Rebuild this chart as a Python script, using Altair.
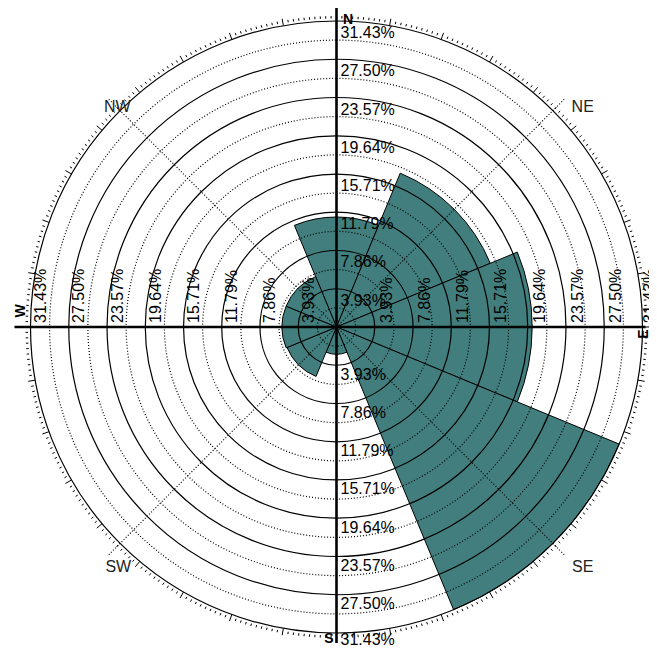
import math
import altair as alt
import pandas as pd

# ---------------- data ----------------
directions = ["N", "NE", "E", "SE", "S", "SW", "W", "NW"]
direction_deg = [0, 45, 90, 135, 180, 225, 270, 315]
frequency = [11.3, 17.1, 20.1, 31.43, 2.8, 5.5, 5.6, 5.6]
ring_values = [3.93, 7.86, 11.79, 15.71, 19.64, 23.57, 27.50, 31.43]
ring_labels = ["3.93%", "7.86%", "11.79%", "15.71%", "19.64%", "23.57%", "27.50%", "31.43%"]
cardinal_labels = ["N", "E", "S", "W"]
cardinal_deg = [0, 90, 180, 270]
diag_labels = ["NE", "SE", "SW", "NW"]
diag_deg = [45, 135, 225, 315]

# ---------------- layout ----------------
W, H = 641, 639
CX, CY = 328.5, 319.0
R_PX = 306.0
RMAX = ring_values[-1]
PX = RMAX / R_PX  # data units per pixel
FONT = "Liberation Sans"
FILL = "#417e7d"

theta_scale = alt.Scale(domain=[0, 360], range=[0, 2 * math.pi])
radius_scale = alt.Scale(type="linear", domain=[0, RMAX], range=[0, R_PX], zero=True, nice=False)
x_scale = alt.Scale(domain=[-RMAX, RMAX], range=[CX - R_PX, CX + R_PX], nice=False, zero=False)
y_scale = alt.Scale(domain=[-RMAX, RMAX], range=[CY + R_PX, CY - R_PX], nice=False, zero=False)


def polar(deg, r):
    a = math.radians(deg)
    return r * math.sin(a), r * math.cos(a)


def xy_enc(rule=False):
    enc = dict(
        x=alt.X("x:Q", scale=x_scale, axis=None),
        y=alt.Y("y:Q", scale=y_scale, axis=None),
    )
    if rule:
        enc["x2"] = alt.X2("x2:Q")
        enc["y2"] = alt.Y2("y2:Q")
    return enc


# sectors
sec_df = pd.DataFrame({
    "direction": directions,
    "freq": frequency,
    "t0": [d - 22.5 for d in direction_deg],
    "t1": [d + 22.5 for d in direction_deg],
})
sectors = alt.Chart(sec_df).mark_arc(fill=FILL, stroke="black", strokeWidth=1).encode(
    theta=alt.Theta("t0:Q", scale=theta_scale, stack=None),
    theta2="t1:Q",
    radius=alt.Radius("freq:Q", scale=radius_scale, stack=None),
    x=alt.value(CX),
    y=alt.value(CY),
)

# rings
solid_df = pd.DataFrame({"r": ring_values})
mids = [(a + b) / 2 for a, b in zip([0] + ring_values[:-1], ring_values)]
dotted_df = pd.DataFrame({"r": mids})
solid_rings = alt.Chart(solid_df).mark_arc(
    theta=0, theta2=2 * math.pi, fillOpacity=0, stroke="black", strokeWidth=1.2
).encode(radius=alt.Radius("r:Q", scale=radius_scale, stack=None), x=alt.value(CX), y=alt.value(CY))
dotted_rings = alt.Chart(dotted_df).mark_arc(
    theta=0, theta2=2 * math.pi, fillOpacity=0, stroke="black", strokeWidth=1.2, strokeDash=[1, 2]
).encode(radius=alt.Radius("r:Q", scale=radius_scale, stack=None), x=alt.value(CX), y=alt.value(CY))

# outer rim ticks (one per degree, longer every 10 degrees)
tick_rows = []
for d in range(360):
    if d % 10 == 0:
        r0, r1 = (R_PX + 0) * PX, (R_PX + 7) * PX
    else:
        r0, r1 = (R_PX + 2.5) * PX, (R_PX + 5) * PX
    x0, y0 = polar(d, r0)
    x1, y1 = polar(d, r1)
    tick_rows.append({"x": x0, "y": y0, "x2": x1, "y2": y1})
tick_df = pd.DataFrame(tick_rows)
ticks = alt.Chart(tick_df).mark_rule(stroke="black", strokeWidth=1).encode(**xy_enc(True))

# diagonal dotted spokes
diag_rows = []
for d in diag_deg:
    x1, y1 = polar(d, 322 * PX)
    diag_rows.append({"x": 0.0, "y": 0.0, "x2": x1, "y2": y1})
diag_lines = alt.Chart(pd.DataFrame(diag_rows)).mark_rule(
    stroke="black", strokeWidth=1.2, strokeDash=[1, 2]
).encode(**xy_enc(True))

# cardinal cross
cross_len = [320, 309, 316, 322]
cross_rows = []
for d, L in zip(cardinal_deg, cross_len):
    x1, y1 = polar(d, L * PX)
    cross_rows.append({"x": 0.0, "y": 0.0, "x2": x1, "y2": y1})
cross = alt.Chart(pd.DataFrame(cross_rows)).mark_rule(
    stroke="black", strokeWidth=2.6
).encode(**xy_enc(True))

# ring labels
top_rows, bottom_rows, west_rows, east_rows = [], [], [], []
for v, lab in zip(ring_values, ring_labels):
    top_rows.append({"x": 0.0, "y": v, "label": lab})
    bottom_rows.append({"x": 0.0, "y": -v, "label": lab})
    west_rows.append({"x": -v, "y": 0.0, "label": lab})
    east_rows.append({"x": v, "y": 0.0, "label": lab})
top_labels = alt.Chart(pd.DataFrame(top_rows)).mark_text(
    align="left", baseline="middle", dx=4, dy=12, font=FONT, fontSize=16, color="black"
).encode(text="label:N", **xy_enc())
bottom_labels = alt.Chart(pd.DataFrame(bottom_rows[:-1])).mark_text(
    align="left", baseline="middle", dx=4, dy=9.5, font=FONT, fontSize=16, color="black"
).encode(text="label:N", **xy_enc())
bottom_edge_label = alt.Chart(pd.DataFrame(bottom_rows[-1:])).mark_text(
    align="left", baseline="middle", dx=4, dy=6.5, font=FONT, fontSize=16, color="black"
).encode(text="label:N", **xy_enc())
west_labels = alt.Chart(pd.DataFrame(west_rows)).mark_text(
    align="left", baseline="middle", angle=270, dx=4, dy=10.5, font=FONT, fontSize=16, color="black"
).encode(text="label:N", **xy_enc())
east_labels = alt.Chart(pd.DataFrame(east_rows[:-1])).mark_text(
    align="left", baseline="middle", angle=270, dx=4, dy=12, font=FONT, fontSize=16, color="black"
).encode(text="label:N", **xy_enc())
# outermost east label sits on the right edge and is cut by it, as in the original
east_edge_label = alt.Chart(pd.DataFrame(east_rows[-1:])).mark_text(
    align="left", baseline="middle", angle=270, dx=4, dy=7, font=FONT, fontSize=16, color="black"
).encode(text="label:N", **xy_enc())


def label_layer(text, deg, r_px, **kw):
    x, y = polar(deg, r_px * PX)
    df = pd.DataFrame({"x": [x], "y": [y], "label": [text]})
    return alt.Chart(df).mark_text(font=FONT, align="center", baseline="middle", **kw).encode(
        text="label:N", **xy_enc()
    )


card_offsets = {
    "N": dict(dx=11.5, dy=-1.5),
    "E": dict(dx=-7, dy=1, angle=270),
    "S": dict(dx=-7.5, dy=6),
    "W": dict(dx=16, dy=-9.5, angle=270),
}
card_layers = [
    label_layer(t, d, R_PX, fontSize=14, fontWeight="bold", color="black", **card_offsets[t])
    for t, d in zip(cardinal_labels, cardinal_deg)
]
diag_offsets = {
    "NE": dict(dx=27, dy=-1),
    "SE": dict(dx=27, dy=21),
    "SW": dict(dx=1, dy=21),
    "NW": dict(dx=0, dy=-1),
}
diag_layers = [
    label_layer(t, d, 310, fontSize=16, color="#222222", **diag_offsets[t])
    for t, d in zip(diag_labels, diag_deg)
]

chart = alt.layer(
    sectors, dotted_rings, solid_rings, ticks, diag_lines, cross,
    top_labels, bottom_labels, bottom_edge_label, west_labels, east_labels, east_edge_label,
    *card_layers, *diag_layers
).properties(
    width=W, height=H, padding=0,
    autosize=alt.AutoSizeParams(type="none"),
    background="white",
).configure_view(strokeOpacity=0)

chart.save("out.html", embed_options={"renderer": "svg", "actions": False})
